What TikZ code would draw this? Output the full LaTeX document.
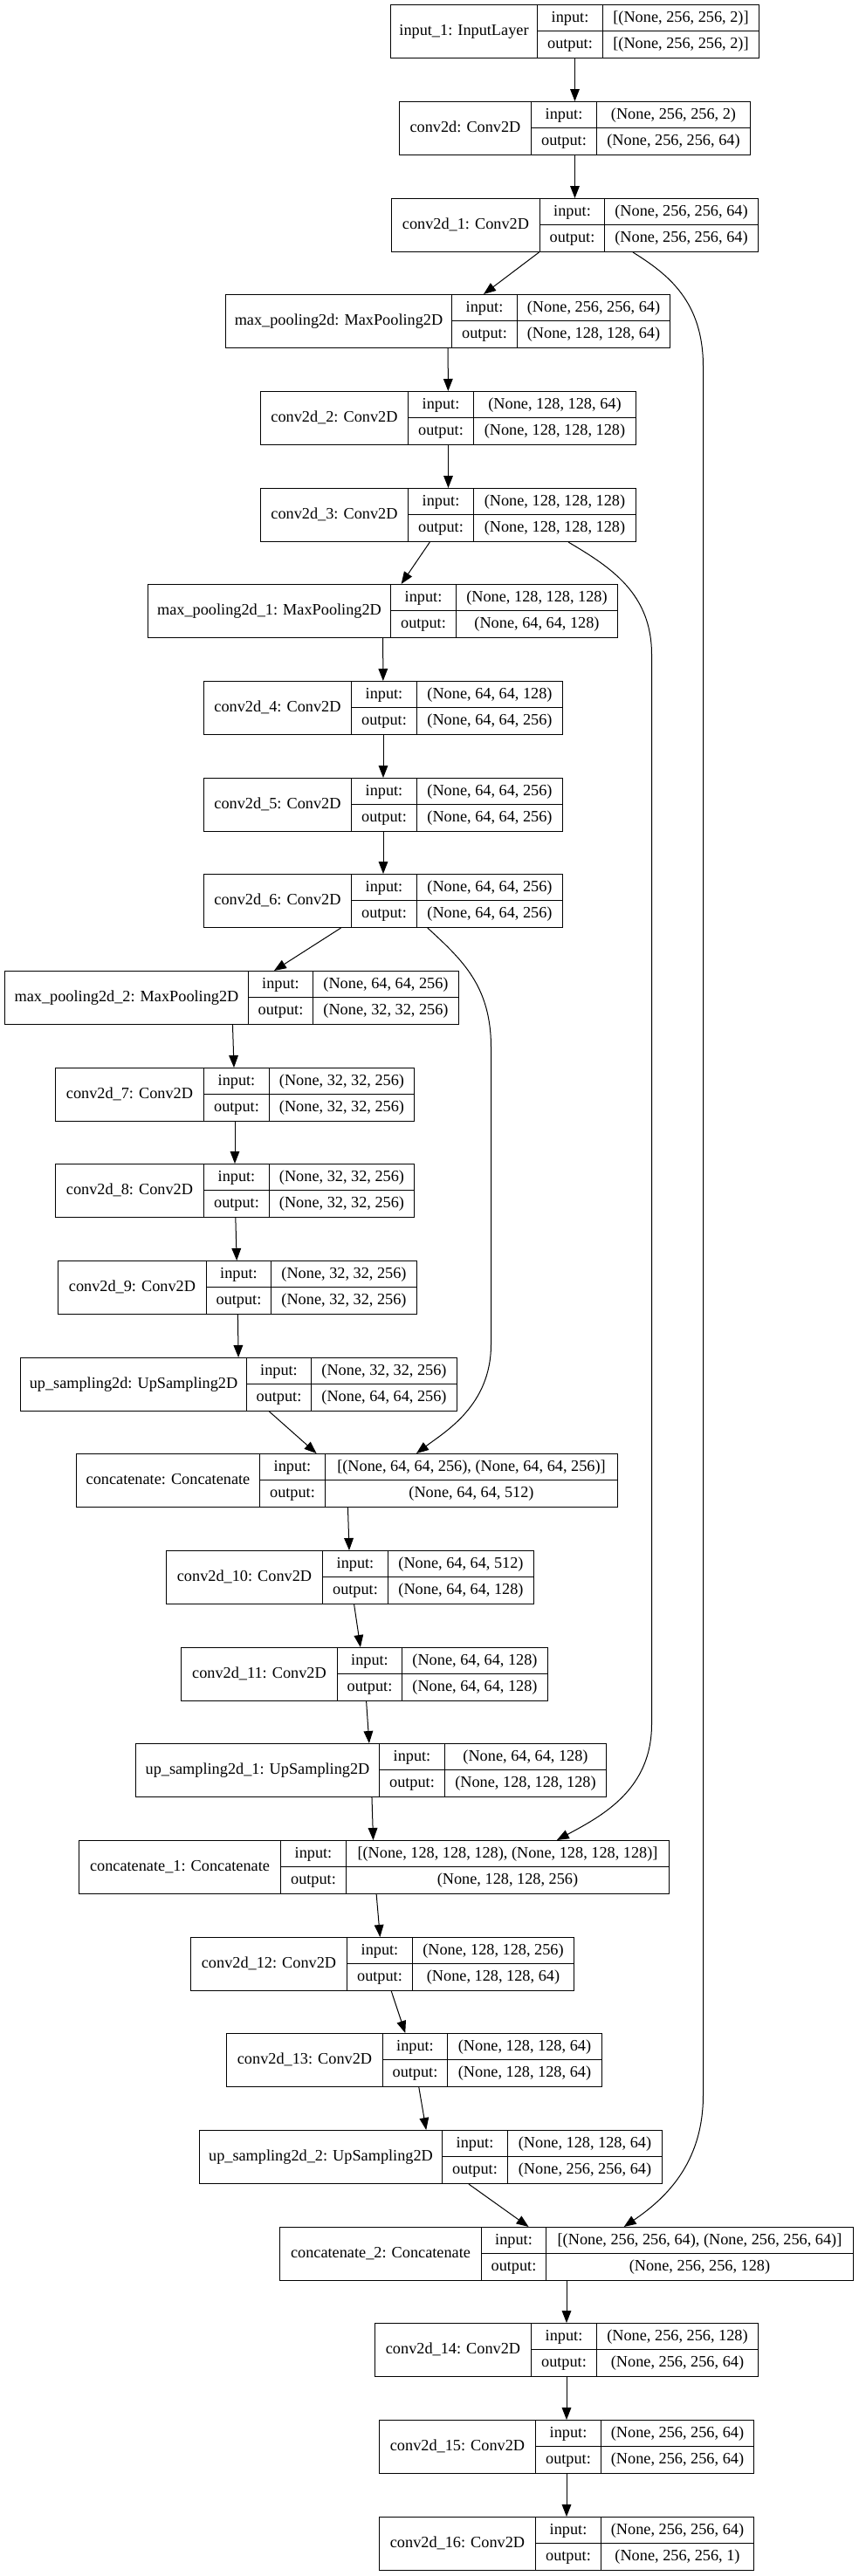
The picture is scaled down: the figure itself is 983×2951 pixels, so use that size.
\documentclass[tikz,border=0pt]{standalone}
\usepackage{fontspec}
\setmainfont{Liberation Serif}
\usetikzlibrary{arrows.meta,fit}
\tikzset{
  box/.style={draw=black, line width=0.75pt, rectangle, inner sep=0pt},
  divline/.style={draw=black, line width=0.75pt},
  tx/.style={font=\fontsize{13.7}{16}\selectfont, inner sep=0pt, anchor=base},
  conn/.style={draw=black, line width=0.75pt, -{Triangle[length=10.5pt,width=8pt]}},
}
% #1 name, #2 row, #3 left, #4 divider 1, #5 divider 2, #6 right, #7 label, #8 input, #9 output
\newcommand{\nnlayer}[9]{%
  \pgfmathsetmacro{\lyT}{floor(5.8+#2*110.67)+0.5}%
  \pgfmathsetmacro{\lyB}{\lyT+61}%
  \pgfmathsetmacro{\lyM}{\lyT+30}%
  \pgfmathsetmacro{\lxA}{floor(#3)+0.5}%
  \pgfmathsetmacro{\lxB}{floor(#4)+0.5}%
  \pgfmathsetmacro{\lxC}{floor(#5)+0.5}%
  \pgfmathsetmacro{\lxD}{floor(#6)+0.5}%
  \node[box, fit={(\lxA,\lyT) (\lxD,\lyB)}] (#1) {};
  \draw[divline] (\lxB,\lyT) -- (\lxB,\lyB);
  \draw[divline] (\lxC,\lyT) -- (\lxC,\lyB);
  \draw[divline] (\lxB,\lyM) -- (\lxD,\lyM);
  \node[tx] (#1-l) at ({(\lxA+\lxB)/2},\lyT+30.5+4.6) {#7};
  \node[tx] (#1-i) at ({(\lxB+\lxC)/2},\lyT+15.25+4.6) {input:};
  \node[tx] (#1-o) at ({(\lxB+\lxC)/2},\lyT+45.75+4.6) {output:};
  \node[tx] (#1-iv) at ({(\lxC+\lxD)/2},\lyT+15.25+4.6) {#8};
  \node[tx] (#1-ov) at ({(\lxC+\lxD)/2},\lyT+45.75+4.6) {#9};
}
\begin{document}
\begin{tikzpicture}[x=0.75pt,y=-0.75pt]
\useasboundingbox (0,0) rectangle (983,2951);
\fill[white] (0,0) rectangle (983,2951);

\nnlayer{in1}{0}{447.7}{615.7}{690.7}{869.3}{input\_1: InputLayer}{[(None, 256, 256, 2)]}{[(None, 256, 256, 2)]}
\nnlayer{c0}{1}{457.7}{608.3}{683}{859.3}{conv2d: Conv2D}{(None, 256, 256, 2)}{(None, 256, 256, 64)}
\nnlayer{c1}{2}{448.3}{618}{692.3}{868.7}{conv2d\_1: Conv2D}{(None, 256, 256, 64)}{(None, 256, 256, 64)}
\nnlayer{mp}{3}{258.5}{517}{592}{767.9}{max\_pooling2d: MaxPooling2D}{(None, 256, 256, 64)}{(None, 128, 128, 64)}
\nnlayer{c2}{4}{298.7}{467.9}{542.4}{728}{conv2d\_2: Conv2D}{(None, 128, 128, 64)}{(None, 128, 128, 128)}
\nnlayer{c3}{5}{298.7}{467.9}{542.4}{728}{conv2d\_3: Conv2D}{(None, 128, 128, 128)}{(None, 128, 128, 128)}
\nnlayer{mp1}{6}{169}{447.8}{522.3}{707.6}{max\_pooling2d\_1: MaxPooling2D}{(None, 128, 128, 128)}{(None, 64, 64, 128)}
\nnlayer{c4}{7}{233.5}{402.2}{477.2}{644.2}{conv2d\_4: Conv2D}{(None, 64, 64, 128)}{(None, 64, 64, 256)}
\nnlayer{c5}{8}{233.5}{402.2}{477.2}{644.2}{conv2d\_5: Conv2D}{(None, 64, 64, 256)}{(None, 64, 64, 256)}
\nnlayer{c6}{9}{233.5}{402.2}{477.2}{644.2}{conv2d\_6: Conv2D}{(None, 64, 64, 256)}{(None, 64, 64, 256)}
\nnlayer{mp2}{10}{5.1}{284.2}{358.7}{525.5}{max\_pooling2d\_2: MaxPooling2D}{(None, 64, 64, 256)}{(None, 32, 32, 256)}
\nnlayer{c7}{11}{63.8}{233.7}{308.2}{474.5}{conv2d\_7: Conv2D}{(None, 32, 32, 256)}{(None, 32, 32, 256)}
\nnlayer{c8}{12}{63.8}{233.7}{308.2}{474.5}{conv2d\_8: Conv2D}{(None, 32, 32, 256)}{(None, 32, 32, 256)}
\nnlayer{c9}{13}{66.3}{236.2}{310.7}{477}{conv2d\_9: Conv2D}{(None, 32, 32, 256)}{(None, 32, 32, 256)}
\nnlayer{up}{14}{23}{282.1}{356.6}{523}{up\_sampling2d: UpSampling2D}{(None, 32, 32, 256)}{(None, 64, 64, 256)}
\nnlayer{cat}{15}{87.2}{297.4}{372.4}{707.1}{concatenate: Concatenate}{[(None, 64, 64, 256), (None, 64, 64, 256)]}{(None, 64, 64, 512)}
\nnlayer{c10}{16}{190.8}{369.4}{444.4}{611.2}{conv2d\_10: Conv2D}{(None, 64, 64, 512)}{(None, 64, 64, 128)}
\nnlayer{c11}{17}{207.1}{386.2}{460.2}{627}{conv2d\_11: Conv2D}{(None, 64, 64, 128)}{(None, 64, 64, 128)}
\nnlayer{up1}{18}{155.6}{434.7}{509.2}{694.4}{up\_sampling2d\_1: UpSampling2D}{(None, 64, 64, 128)}{(None, 128, 128, 128)}
\nnlayer{cat1}{19}{90.8}{321.4}{396.4}{766.8}{concatenate\_1: Concatenate}{[(None, 128, 128, 128), (None, 128, 128, 128)]}{(None, 128, 128, 256)}
\nnlayer{c12}{20}{218.8}{397.5}{472.1}{657.7}{conv2d\_12: Conv2D}{(None, 128, 128, 256)}{(None, 128, 128, 64)}
\nnlayer{c13}{21}{259.6}{438.2}{512.9}{689}{conv2d\_13: Conv2D}{(None, 128, 128, 64)}{(None, 128, 128, 64)}
\nnlayer{up2}{22}{228.8}{506.6}{581.8}{758}{up\_sampling2d\_2: UpSampling2D}{(None, 128, 128, 64)}{(None, 256, 256, 64)}
\nnlayer{cat2}{23}{320.4}{551.1}{625.7}{977.4}{concatenate\_2: Concatenate}{[(None, 256, 256, 64), (None, 256, 256, 64)]}{(None, 256, 256, 128)}
\nnlayer{c14}{24}{429.3}{608.3}{683.3}{868.7}{conv2d\_14: Conv2D}{(None, 256, 256, 128)}{(None, 256, 256, 64)}
\nnlayer{c15}{25}{434.3}{613}{688}{863.7}{conv2d\_15: Conv2D}{(None, 256, 256, 64)}{(None, 256, 256, 64)}
\nnlayer{c16}{26}{434.3}{613}{688}{863.7}{conv2d\_16: Conv2D}{(None, 256, 256, 64)}{(None, 256, 256, 1)}

% straight connectors
\draw[conn] (in1) -- (c0);
\draw[conn] (c0) -- (c1);
\draw[conn] (c1) -- (mp);
\draw[conn] (mp) -- (c2);
\draw[conn] (c2) -- (c3);
\draw[conn] (c3) -- (mp1);
\draw[conn] (mp1) -- (c4);
\draw[conn] (c4) -- (c5);
\draw[conn] (c5) -- (c6);
\draw[conn] (c6) -- (mp2);
\draw[conn] (mp2) -- (c7);
\draw[conn] (c7) -- (c8);
\draw[conn] (c8) -- (c9);
\draw[conn] (c9) -- (up);
\draw[conn] (up) -- (cat);
\draw[conn] (cat) -- (c10);
\draw[conn] (c10) -- (c11);
\draw[conn] (c11) -- (up1);
\draw[conn] (up1) -- (cat1);
\draw[conn] (cat1) -- (c12);
\draw[conn] (c12) -- (c13);
\draw[conn] (c13) -- (up2);
\draw[conn] (up2) -- (cat2);
\draw[conn] (cat2) -- (c14);
\draw[conn] (c14) -- (c15);
\draw[conn] (c15) -- (c16);

% skip connectors
\coordinate (k1a) at (725,0);
\coordinate (k1b) at (714.7,0);
\coordinate (k2a) at (651,0);
\coordinate (k2b) at (637.8,0);
\coordinate (k3a) at (489.8,0);
\coordinate (k3b) at (477,0);
\draw[conn] (c1.south -| k1a) .. controls (765,314) and (805.5,345) .. (805.5,420)
  -- (805.5,2400) .. controls (805.5,2480) and (760,2520) .. (cat2.north -| k1b);
\draw[conn] (c3.south -| k2a) .. controls (700,650) and (746.5,680) .. (746.5,750)
  -- (746.5,1975) .. controls (746.5,2050) and (690,2080) .. (cat1.north -| k2b);
\draw[conn] (c6.south -| k3a) .. controls (530,1100) and (562.5,1130) .. (562.5,1200)
  -- (562.5,1540) .. controls (562.5,1610) and (510,1640) .. (cat.north -| k3b);
\end{tikzpicture}
\end{document}
